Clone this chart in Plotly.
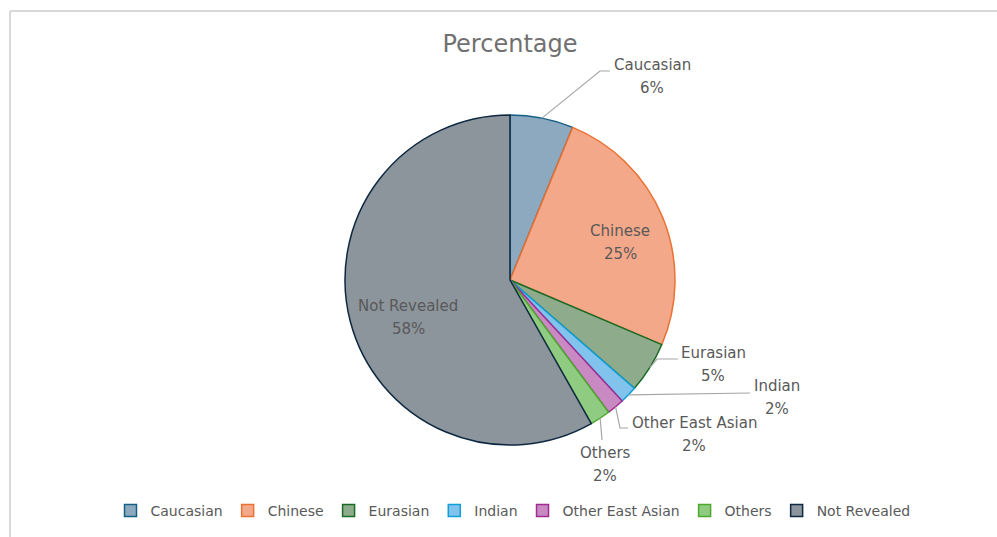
import math
import plotly.graph_objects as go

# ---------------- data ----------------
categories = ["Caucasian", "Chinese", "Eurasian", "Indian", "Other East Asian", "Others", "Not Revealed"]
values = [6.2, 25.2, 5.0, 1.7, 1.7, 2.0, 58.2]
pct_labels = ["6%", "25%", "5%", "2%", "2%", "2%", "58%"]

fill_colors = ["#8DA9BF", "#F4A88A", "#8EAB8C", "#82C3EE", "#C98AC4", "#8FCB80", "#8C949C"]
line_colors = ["#156082", "#E97132", "#196B24", "#0F9ED5", "#A02B93", "#4EA72E", "#0E2841"]

# ---------------- layout geometry ----------------
W, H = 997, 537
CX, CY, R = 510, 280, 165
FONT = "DejaVu Sans"


def px(x):
    return x / W


def py(y):
    return 1 - y / H


# label layout (pixel positions of text and leader elbows)
label_text_pos = {
    "Caucasian": (652, 65),
    "Chinese": (620, 231),
    "Eurasian": (713, 353),
    "Indian": (777, 386),
    "Other East Asian": (694, 423),
    "Others": (605, 453),
    "Not Revealed": (408, 306),
}
leader_path = {
    "Caucasian": [(600, 71), (610, 71)],
    "Eurasian": [(657, 359), (678, 359)],
    "Indian": [(750, 393)],
    "Other East Asian": [(620, 428), (628, 428)],
    "Others": [(602, 440)],
}
LINE_GAP = 23

fig = go.Figure()
fig.add_trace(go.Pie(
    labels=categories,
    values=values,
    sort=False,
    direction="clockwise",
    rotation=0,
    textinfo="none",
    hoverinfo="label+percent",
    marker=dict(colors=fill_colors, line=dict(color=line_colors, width=1.5)),
    domain=dict(x=[px(CX - R), px(CX + R)], y=[py(CY + R), py(CY - R)]),
))

annotations = []
shapes = []
total = sum(values)
cum = 0.0
text_color = "#595959"
for cat, v, pl in zip(categories, values, pct_labels):
    mid = (cum + v / 2) / total * 2 * math.pi
    cum += v
    tx, ty = label_text_pos[cat]
    annotations.append(dict(x=px(tx), y=py(ty), xref="paper", yref="paper", text=cat,
                            showarrow=False, xanchor="center", yanchor="middle",
                            font=dict(size=15, color=text_color, family=FONT)))
    annotations.append(dict(x=px(tx), y=py(ty + LINE_GAP), xref="paper", yref="paper", text=pl,
                            showarrow=False, xanchor="center", yanchor="middle",
                            font=dict(size=15, color=text_color, family=FONT)))
    if cat in leader_path:
        sx = CX + R * math.sin(mid)
        sy = CY - R * math.cos(mid)
        pts = [(sx, sy)] + leader_path[cat]
        path = "M " + " L ".join(f"{px(x):.5f},{py(y):.5f}" for x, y in pts)
        shapes.append(dict(type="path", path=path, xref="paper", yref="paper",
                           line=dict(color="#A6A6A6", width=1.2)))

# chart frame (light grey border at top and left)
shapes.append(dict(type="line", xref="paper", yref="paper", x0=px(10), y0=py(11), x1=1, y1=py(11),
                   line=dict(color="#D9D9D9", width=2)))
shapes.append(dict(type="line", xref="paper", yref="paper", x0=px(10), y0=py(11), x1=px(10), y1=0,
                   line=dict(color="#D9D9D9", width=2)))

fig.update_layout(
    width=W, height=H,
    margin=dict(l=0, r=0, t=0, b=0),
    paper_bgcolor="white",
    plot_bgcolor="white",
    title=dict(text="Percentage", x=px(510), y=py(44), xanchor="center", yanchor="middle",
               font=dict(size=24, color="#707070", family=FONT)),
    showlegend=True,
    legend=dict(orientation="h", x=px(513), y=py(511), xanchor="center", yanchor="middle",
                font=dict(size=14, color=text_color, family=FONT), traceorder="normal",
                itemwidth=30),
    annotations=annotations,
    shapes=shapes,
)

fig.write_html("out.html")
